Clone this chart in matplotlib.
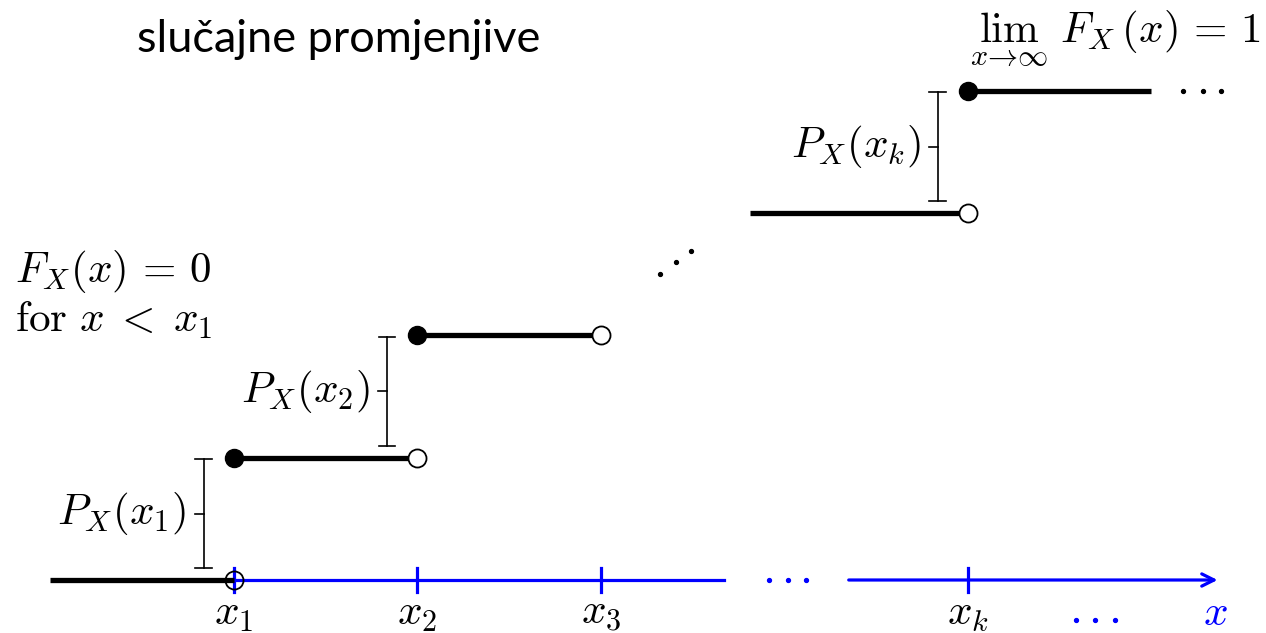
import matplotlib
matplotlib.use('Agg')
import matplotlib.pyplot as plt

plt.rcParams['mathtext.fontset'] = 'cm'

# step function data (x in units of x_i spacing, y in units of jump height)
step_start = [0, 1, 2, 3.81, 5]
step_end = [1, 2, 3, 5, 6.0]
step_level = [0, 1, 2, 3, 4]

closed_x = [1, 2, 5]
closed_y = [1, 2, 4]
open_x = [2, 3, 5]
open_y = [1, 2, 3]

tick_pos = [1, 2, 3, 5]
tick_labels = ['$x_1$', '$x_2$', '$x_3$', '$x_k$']

jump_x = [1, 2, 5]
jump_lo = [0, 1, 3]
jump_hi = [1, 2, 4]
jump_labels = ['$P_X(x_1)$', '$P_X(x_2)$', '$P_X(x_k)$']

diag_dots_x = [3.322, 3.409, 3.490]
diag_dots_y = [2.50, 2.60, 2.69]
right_dots_x = [6.17, 6.28, 6.38]
axis_dots_x = [3.915, 4.019, 4.117]
bottom_dots_x = [5.59, 5.69, 5.80]

FS = 31

fig = plt.figure(figsize=(12.66, 6.33), dpi=100)
ax = fig.add_axes([0, 0, 1, 1])
ax.set_xlim(-0.2752, 6.624)
ax.set_ylim(-0.4335, 4.744)
ax.axis('off')

# blue x axis with a gap
ax.plot([1, 3.67], [0, 0], color='blue', lw=2.3, zorder=2)
ax.annotate('', xy=(6.36, 0), xytext=(4.35, 0),
            arrowprops=dict(arrowstyle='->', color='blue', lw=2.3,
                            mutation_scale=22, shrinkA=0, shrinkB=0), zorder=2)
for t in tick_pos:
    ax.plot([t, t], [-0.098, 0.098], color='blue', lw=2.3, zorder=2)
for t, lab in zip(tick_pos, tick_labels):
    ax.text(t, -0.27, lab, ha='center', va='center', fontsize=FS)
ax.text(6.35, -0.27, '$x$', ha='center', va='center', fontsize=FS, color='blue')
ax.plot(axis_dots_x, [0] * 3, 'o', color='blue', ms=2.8, zorder=2)
ax.plot(bottom_dots_x, [-0.33] * 3, 'o', color='blue', ms=2.8)

# steps
for a, b, lv in zip(step_start, step_end, step_level):
    ax.plot([a, b], [lv, lv], color='black', lw=3.8, solid_capstyle='butt', zorder=3)
ax.plot(closed_x, closed_y, 'o', color='black', ms=13, zorder=4)
ax.plot(open_x, open_y, 'o', mfc='white', mec='black', mew=1.3, ms=13, zorder=4)
ax.plot([1], [0], 'o', mfc='none', mec='black', mew=1.3, ms=13, zorder=4)

# jump brackets
for jx, lo, hi, lab in zip(jump_x, jump_lo, jump_hi, jump_labels):
    bx = jx - 0.165
    b0, b1 = lo + 0.098, hi - 0.012
    mid = (b0 + b1) / 2
    ax.plot([bx, bx], [b0, b1], color='black', lw=1.2)
    for yy in (b0, b1):
        ax.plot([bx - 0.045, bx + 0.045], [yy, yy], color='black', lw=1.2)
    ax.plot([bx - 0.05, bx], [mid, mid], color='black', lw=1.2)
    ax.text(bx - 0.095, mid, lab, ha='right', va='center', fontsize=FS)

ax.plot(diag_dots_x, diag_dots_y, 'o', color='black', ms=2.8)
ax.plot(right_dots_x, [4] * 3, 'o', color='black', ms=2.8)

ax.text(-0.193, 2.52, r'$F_X(x)\,=\,0$', ha='left', va='center', fontsize=FS)
ax.text(-0.193, 2.13, r'$\mathrm{for}\ x\;<\;x_1$', ha='left', va='center', fontsize=FS)
ax.text(5.01, 4.43, r'$\lim_{x\to\infty}\ F_X(x)\,=\,1$', ha='left', va='center', fontsize=FS)

ax.text(0.471, 4.32, 'slučajne promjenjive', ha='left', va='baseline',
        fontsize=32.5, family='Lato')

fig.savefig('out.png', dpi=100)
